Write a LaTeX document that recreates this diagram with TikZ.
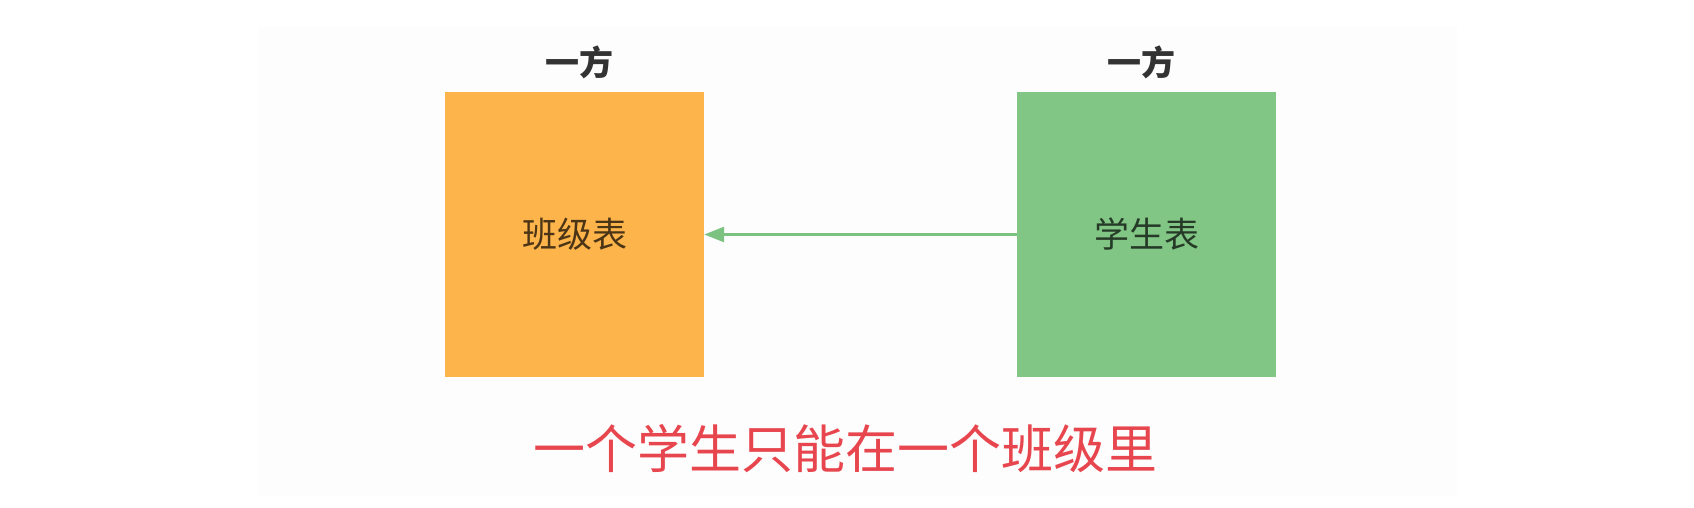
\documentclass[tikz,border=0pt]{standalone}
\usepackage{fontspec}
\usetikzlibrary{arrows.meta}
\newfontfamily\cjk{Noto Sans CJK SC}
\definecolor{boxorange}{HTML}{FDB44B}
\definecolor{boxgreen}{HTML}{81C684}
\definecolor{linkgreen}{HTML}{7CC280}
\definecolor{notered}{HTML}{E8464E}
\definecolor{labelgray}{HTML}{333333}
\definecolor{panelgray}{HTML}{FDFDFD}
\tikzset{
  tablebox/.style={inner sep=0pt, minimum width=259pt, minimum height=285pt, font=\cjk\fontsize{35}{40}\selectfont, text=black, text opacity=0.7},
  sidelabel/.style={inner sep=0pt, font=\cjk\bfseries\fontsize{34}{40}\selectfont, text=labelgray},
  notetext/.style={inner sep=0pt, font=\cjk\fontsize{52}{60}\selectfont, text=notered},
  linkarrow/.style={draw=linkgreen, line width=2.8pt, -{Triangle[length=20pt,width=15pt]}}
}
\begin{document}
\begin{tikzpicture}[x=1pt,y=-1pt]
\useasboundingbox[fill=white] (0,0) rectangle (1694,507);
\fill[panelgray] (258,27) rectangle (1457,496);
\node[tablebox, fill=boxorange] (cls) at (574.5,234.5) {班级表};
\node[tablebox, fill=boxgreen] (stu) at (1146.5,234.5) {学生表};
\node[sidelabel] (clsl) at (579,62) {一方};
\node[sidelabel] (stul) at (1141,62) {一方};
\draw[linkarrow] (stu.west) -- (cls.east);
\node[notetext] (note) at (845,449) {一个学生只能在一个班级里};
\end{tikzpicture}
\end{document}
